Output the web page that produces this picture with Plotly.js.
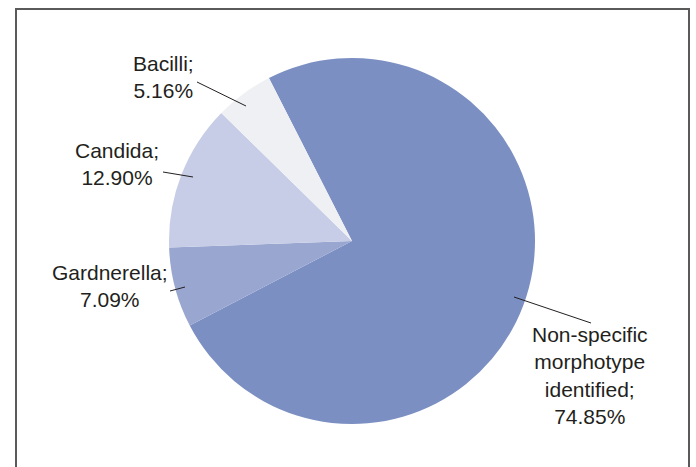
<!DOCTYPE html>
<html>
<head>
<meta charset="utf-8">
<script src="https://cdn.plot.ly/plotly-3.0.1.min.js"></script>
<style>html,body{margin:0;padding:0;background:#fff;}#chart{width:696px;height:467px;}</style>
</head>
<body>
<div id="chart"></div>
<script>
var categories = ["Non-specific morphotype identified", "Gardnerella", "Candida", "Bacilli"];
var labelLines = ["Non-specific<br>morphotype<br>identified", "Gardnerella", "Candida", "Bacilli"];
var values = [74.85, 7.09, 12.90, 5.16];
var colors = ["#7b8fc3", "#98a6d0", "#c7cde6", "#eff0f3"];

var W = 696, H = 467;
function px(x){ return x / W; }
function py(y){ return 1 - y / H; }

// pie placement (pixels)
var cx = 352, cy = 241, R = 183;

// label centres and leader lines (pixels)
var labelPos = [[590, 375], [110, 286], [117, 164], [163, 77]];
var leaders = [
  [[514, 297], [591, 323]],
  [[170, 291], [185, 287]],
  [[163, 172], [193, 177]],
  [[197, 82], [246, 106]]
];

var trace = {
  type: "pie",
  labels: categories,
  values: values,
  sort: false,
  direction: "clockwise",
  rotation: -27,
  marker: {colors: colors, line: {width: 0}},
  textinfo: "none",
  hoverinfo: "label+percent",
  showlegend: false,
  domain: {x: [px(cx - R), px(cx + R)], y: [py(cy + R), py(cy - R)]}
};

var annotations = categories.map(function(c, i){
  return {
    xref: "paper", yref: "paper",
    x: px(labelPos[i][0]), y: py(labelPos[i][1]),
    xanchor: "center", yanchor: "middle",
    text: labelLines[i] + ";<br>" + values[i].toFixed(2) + "%",
    showarrow: false, align: "center",
    font: {family: "Liberation Sans, Arial, sans-serif", size: 21, color: "#231f20"}
  };
});

var shapes = leaders.map(function(l){
  return {type: "line", xref: "paper", yref: "paper",
    x0: px(l[0][0]), y0: py(l[0][1]), x1: px(l[1][0]), y1: py(l[1][1]),
    line: {color: "#231f20", width: 1}};
});
shapes.push({type: "rect", xref: "paper", yref: "paper",
  x0: px(16), y0: py(480), x1: px(689), y1: py(9),
  line: {color: "#5a5a5a", width: 2}, fillcolor: "rgba(0,0,0,0)"});

var layout = {
  width: W, height: H,
  margin: {l: 0, r: 0, t: 0, b: 0},
  paper_bgcolor: "#ffffff",
  annotations: annotations,
  shapes: shapes
};

Plotly.newPlot("chart", [trace], layout, {displayModeBar: false, staticPlot: true});
</script>
</body>
</html>
